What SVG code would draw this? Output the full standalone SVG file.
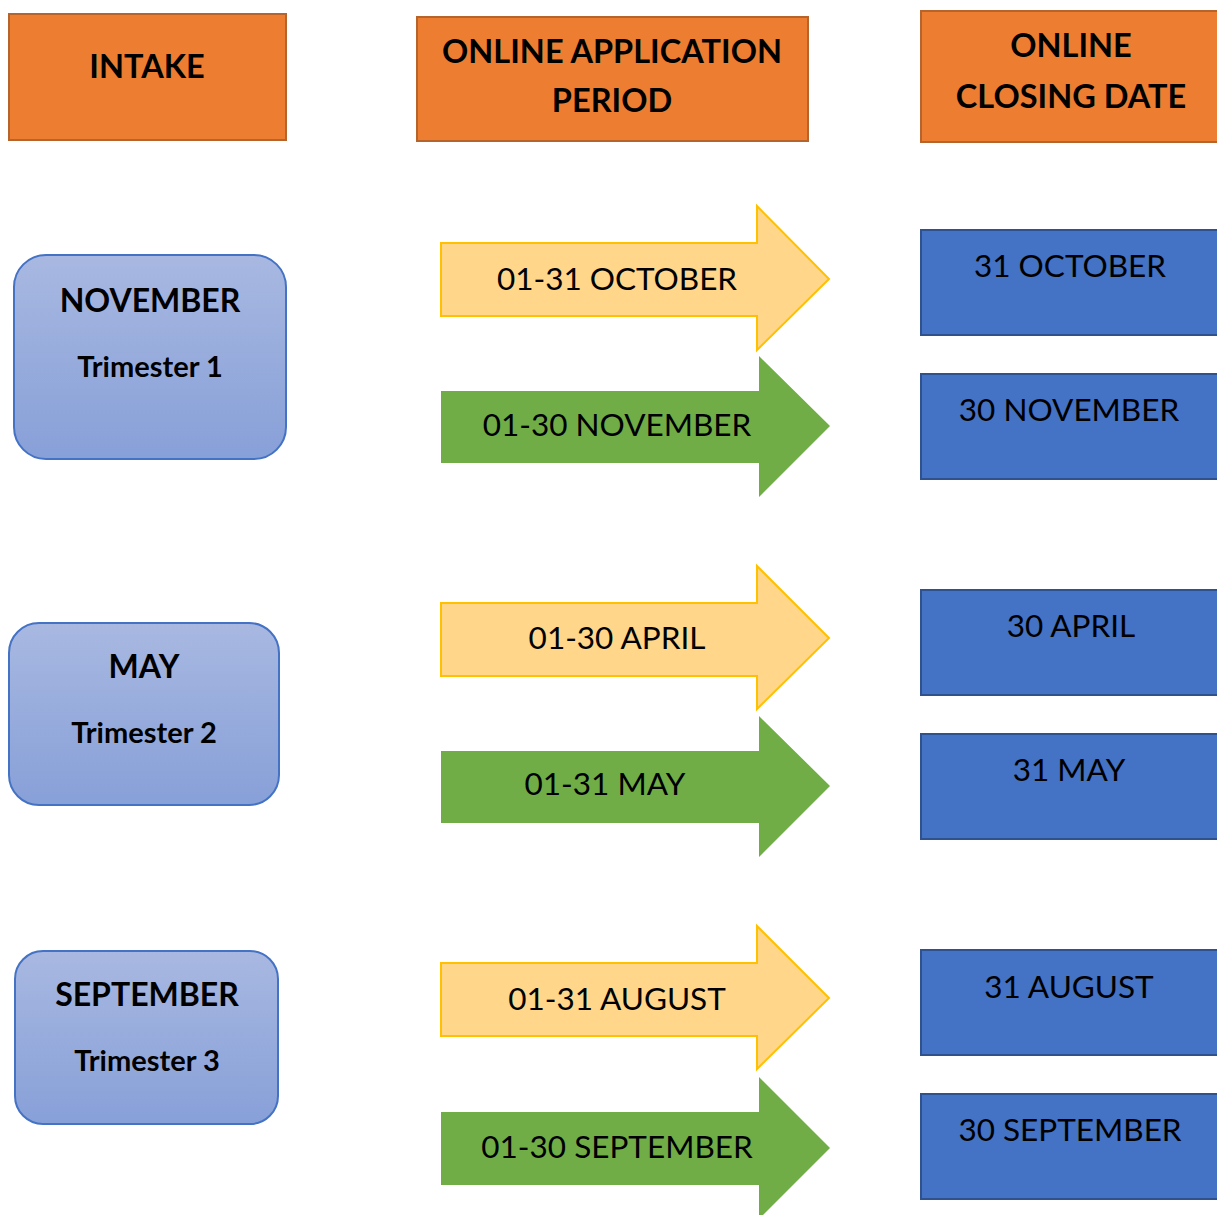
<svg xmlns="http://www.w3.org/2000/svg" width="1217" height="1215" viewBox="0 0 1217 1215">
<defs>
<linearGradient id="bg" x1="0" y1="0" x2="0" y2="1">
<stop offset="0" stop-color="#A8B8E1"/>
<stop offset="1" stop-color="#87A0D8"/>
</linearGradient>
<style>
.hdr{fill:#ED7D31;stroke:#B5652C;stroke-width:2}
.ht{font-family:Lato,"Liberation Sans",sans-serif;font-weight:bold;font-size:32.5px;fill:#000;text-anchor:middle}
.intake{fill:url(#bg);stroke:#4472C4;stroke-width:2}
.it{font-family:Lato,"Liberation Sans",sans-serif;font-weight:bold;fill:#000;text-anchor:middle}
.ya{fill:#FFD68A;stroke:#FFC000;stroke-width:2}
.ga{fill:#70AD47}
.at{font-family:Lato,"Liberation Sans",sans-serif;font-size:31.5px;fill:#000;text-anchor:middle}
.cd{fill:#4472C4;stroke:#2F528F;stroke-width:2}
</style>
</defs>
<rect width="1217" height="1215" fill="#fff"/>
<g id="hdr-intake"><rect class="hdr" x="9" y="14" width="277" height="126"/><text class="ht" x="147" y="78">INTAKE</text></g>
<g id="hdr-period"><rect class="hdr" x="417" y="17" width="391" height="124"/><text class="ht" x="612" y="63">ONLINE APPLICATION</text><text class="ht" x="612" y="112">PERIOD</text></g>
<g id="hdr-closing"><rect class="hdr" x="921" y="11" width="300" height="131"/><text class="ht" x="1071" y="57">ONLINE</text><text class="ht" x="1071" y="108">CLOSING DATE</text></g>

<g id="intake-nov"><rect class="intake" x="14" y="255" width="272" height="204" rx="32"/><text class="it" x="150" y="312" font-size="32">NOVEMBER</text><text class="it" x="150" y="377" font-size="29">Trimester 1</text></g>
<g id="intake-may"><rect class="intake" x="9" y="623" width="270" height="182" rx="30"/><text class="it" x="144" y="678" font-size="32">MAY</text><text class="it" x="144" y="743" font-size="29">Trimester 2</text></g>
<g id="intake-sep"><rect class="intake" x="15" y="951" width="263" height="173" rx="28"/><text class="it" x="147" y="1006" font-size="32">SEPTEMBER</text><text class="it" x="147" y="1071" font-size="29">Trimester 3</text></g>

<g id="period-oct"><path class="ya" d="M441,243 H757 V206 L829,279 L757,350 V316 H441 Z"/><text class="at" x="617" y="290">01-31 OCTOBER</text></g>
<g id="period-nov"><path class="ga" d="M441,391 H759 V356 L830,426 L759,497 V463 H441 Z"/><text class="at" x="617" y="436">01-30 NOVEMBER</text></g>
<g id="period-apr"><path class="ya" d="M441,603 H757 V566 L829,638 L757,709 V676 H441 Z"/><text class="at" x="617" y="649">01-30 APRIL</text></g>
<g id="period-may"><path class="ga" d="M441,751 H759 V716 L830,786 L759,857 V823 H441 Z"/><text class="at" x="605" y="795">01-31 MAY</text></g>
<g id="period-aug"><path class="ya" d="M441,963 H757 V926 L829,998 L757,1069 V1036 H441 Z"/><text class="at" x="617" y="1010">01-31 AUGUST</text></g>
<g id="period-sep"><path class="ga" d="M441,1112 H759 V1077 L830,1148 L759,1219 V1185 H441 Z"/><text class="at" x="617" y="1158">01-30 SEPTEMBER</text></g>

<g id="close-oct"><rect class="cd" x="921" y="230" width="300" height="105"/><text class="at" x="1070" y="277">31 OCTOBER</text></g>
<g id="close-nov"><rect class="cd" x="921" y="374" width="300" height="105"/><text class="at" x="1069" y="421">30 NOVEMBER</text></g>
<g id="close-apr"><rect class="cd" x="921" y="590" width="300" height="105"/><text class="at" x="1071" y="637">30 APRIL</text></g>
<g id="close-may"><rect class="cd" x="921" y="734" width="300" height="105"/><text class="at" x="1069" y="781">31 MAY</text></g>
<g id="close-aug"><rect class="cd" x="921" y="950" width="300" height="105"/><text class="at" x="1069" y="998">31 AUGUST</text></g>
<g id="close-sep"><rect class="cd" x="921" y="1094" width="300" height="105"/><text class="at" x="1070" y="1141">30 SEPTEMBER</text></g>
<g id="connectors"/>
</svg>
